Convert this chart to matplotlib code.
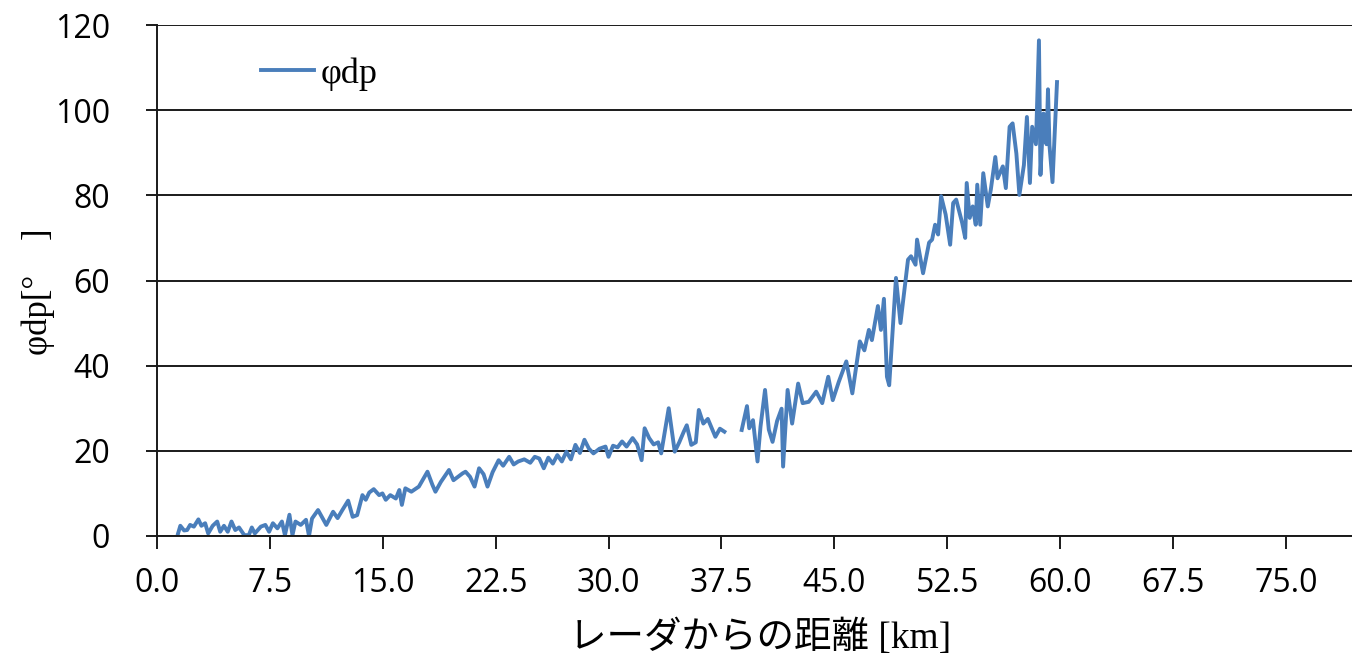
import numpy as np
import matplotlib
matplotlib.use("Agg")
import matplotlib.pyplot as plt

# distance from radar [km] and phi_dp [deg]
# NaN marks the gap in the record around 38 km
dist = [1.4, 1.55, 1.8, 2.0, 2.2, 2.45, 2.75, 2.95, 3.2, 3.4, 3.7, 4.0, 4.2, 4.45, 4.7,
        4.95, 5.2, 5.45, 5.8, 6.1, 6.3, 6.5, 6.9, 7.2, 7.45, 7.7, 8.0, 8.3, 8.5, 8.8,
        9.0, 9.2, 9.55, 9.9, 10.1, 10.3, 10.7, 11.0, 11.25, 11.7, 12.0, 12.3, 12.7, 13.0, 13.3,
        13.65, 13.87, 14.1, 14.4, 14.76, 14.98, 15.2, 15.5, 15.87, 16.1, 16.27, 16.5, 16.9, 17.4, 17.97,
        18.3, 18.5, 18.86, 19.4, 19.7, 20.3, 20.5, 20.8, 21.1, 21.4, 21.7, 21.96, 22.3, 22.7, 23.0,
        23.4, 23.7, 24.0, 24.4, 24.8, 25.1, 25.4, 25.7, 26.0, 26.3, 26.6, 26.9, 27.2, 27.5, 27.8,
        28.1, 28.4, 28.7, 29.0, 29.4, 29.8, 30.0, 30.3, 30.6, 30.9, 31.2, 31.6, 31.9, 32.2, 32.4,
        32.7, 33.0, 33.3, 33.5, 34.0, 34.4, 34.7, 35.0, 35.2, 35.5, 35.8, 36.0, 36.3, 36.6, 36.9,
        37.1, 37.4, 37.7, 38.2,
        38.85, 39.2, 39.35, 39.6, 39.9, 40.1, 40.4, 40.65, 40.9, 41.2, 41.5, 41.6, 41.9, 42.2, 42.6,
        42.9, 43.3, 43.8, 44.2, 44.6, 44.9, 45.3, 45.8, 46.2, 46.7, 47.0, 47.3, 47.5, 47.9, 48.1,
        48.3, 48.5, 48.65, 48.9, 49.1, 49.4, 49.9, 50.1, 50.4, 50.5, 50.9, 51.3, 51.5, 51.7, 51.9,
        52.1, 52.4, 52.7, 52.9, 53.1, 53.5, 53.7, 53.8, 54.0, 54.2, 54.4, 54.5, 54.7, 54.9, 55.2,
        55.4, 55.7, 55.85, 56.2, 56.4, 56.65, 56.85, 57.1, 57.3, 57.6, 57.8, 58.0, 58.15, 58.4, 58.6,
        58.7, 58.9, 59.1, 59.2, 59.3, 59.5, 59.8]
phidp = [0.6, 2.4, 1.3, 1.4, 2.6, 2.2, 3.9, 2.4, 3.0, 0.6, 2.4, 3.4, 1.0, 2.4, 1.0,
         3.4, 1.4, 2.0, 0.2, 0.2, 2.0, 0.6, 2.2, 2.6, 1.0, 3.0, 1.8, 3.4, 0.2, 5.0,
         0.2, 3.4, 2.6, 3.8, 0.0, 4.1, 6.1, 4.2, 2.6, 5.7, 4.2, 6.0, 8.3, 4.5, 4.9,
         9.6, 8.5, 10.2, 11.0, 9.6, 10.0, 8.5, 9.6, 8.8, 10.8, 7.3, 11.2, 10.4, 11.6, 15.1,
         12.0, 10.4, 12.7, 15.5, 13.1, 14.7, 15.1, 13.9, 11.6, 15.9, 14.5, 11.6, 15.0, 17.8, 16.5,
         18.6, 16.8, 17.5, 18.0, 17.2, 18.6, 18.2, 15.9, 18.4, 17.0, 19.0, 17.5, 19.8, 18.0, 21.4,
         19.5, 22.6, 20.5, 19.4, 20.5, 21.0, 18.6, 21.2, 20.8, 22.2, 21.0, 23.0, 21.5, 17.8, 25.3,
         23.0, 21.5, 22.0, 19.4, 30.0, 19.8, 22.0, 24.5, 26.0, 21.4, 22.0, 29.6, 26.4, 27.5, 25.0,
         23.3, 25.2, 24.5, np.nan,
         24.9, 30.5, 25.3, 27.2, 17.5, 25.7, 34.3, 25.0, 22.1, 27.0, 29.9, 16.3, 34.3, 26.4, 35.8,
         31.2, 31.5, 33.9, 31.2, 37.4, 31.9, 36.2, 41.0, 33.5, 45.7, 43.6, 48.4, 46.0, 54.0, 48.4,
         55.7, 37.4, 35.4, 49.2, 60.6, 50.0, 64.9, 65.7, 63.7, 69.6, 61.7, 68.9, 69.6, 73.1, 70.8,
         79.8, 75.5, 68.4, 78.2, 79.0, 73.5, 70.0, 82.9, 74.7, 77.4, 73.1, 82.5, 73.1, 85.2, 77.4,
         81.3, 89.0, 84.0, 86.8, 81.7, 96.1, 96.9, 89.8, 80.1, 87.1, 98.4, 82.9, 96.1, 92.0, 116.4,
         84.8, 99.2, 92.0, 104.9, 91.7, 83.1, 106.6]

x_ticks = [0.0, 7.5, 15.0, 22.5, 30.0, 37.5, 45.0, 52.5, 60.0, 67.5, 75.0]
y_ticks = [0, 20, 40, 60, 80, 100, 120]

fig = plt.figure(figsize=(13.52, 6.61), dpi=100)
ax = fig.add_axes([157 / 1352, 1 - 536 / 661, 1 - 157 / 1352, (536 - 25) / 661])

ax.plot(dist, phidp, color="#4a7ebb", lw=2.8, label="φdp", solid_joinstyle="round")

ax.set_xlim(0, 79.4)
ax.set_ylim(0, 120)
ax.set_xticks(x_ticks)
ax.set_xticklabels([f"{v:.1f}" for v in x_ticks])
ax.set_yticks(y_ticks)

ax.grid(axis="y", color="#1a1a1a", lw=1.4)
ax.set_axisbelow(True)
for s in ["top", "right"]:
    ax.spines[s].set_visible(False)
for s in ["left", "bottom"]:
    ax.spines[s].set_color("#1a1a1a")
    ax.spines[s].set_linewidth(1.4)

ax.tick_params(axis="x", direction="out", length=9, width=1.4, color="#1a1a1a", pad=13, labelsize=23)
ax.tick_params(axis="y", direction="out", length=8, width=1.4, color="#1a1a1a", pad=26, labelsize=23)
for lab in ax.get_xticklabels() + ax.get_yticklabels():
    lab.set_fontfamily(["Open Sans", "DejaVu Sans"])

fig.text(760 / 1352, 1 - 638 / 661, "レーダからの距離 [km]",
         family=["Liberation Serif", "Noto Sans CJK JP"], fontsize=27,
         ha="center", va="center")
fig.text(38 / 1352, 1 - 292 / 661, "φdp[°\u3000]",
         family=["Liberation Serif", "Noto Sans CJK JP"], fontsize=25,
         ha="center", va="center", rotation=90)

leg = ax.legend(loc="upper left", bbox_to_anchor=(0.06, 1.0), frameon=False,
                prop={"family": "Liberation Serif", "size": 26},
                handlelength=1.45, handletextpad=0.2)

fig.savefig("out.png", dpi=100)
